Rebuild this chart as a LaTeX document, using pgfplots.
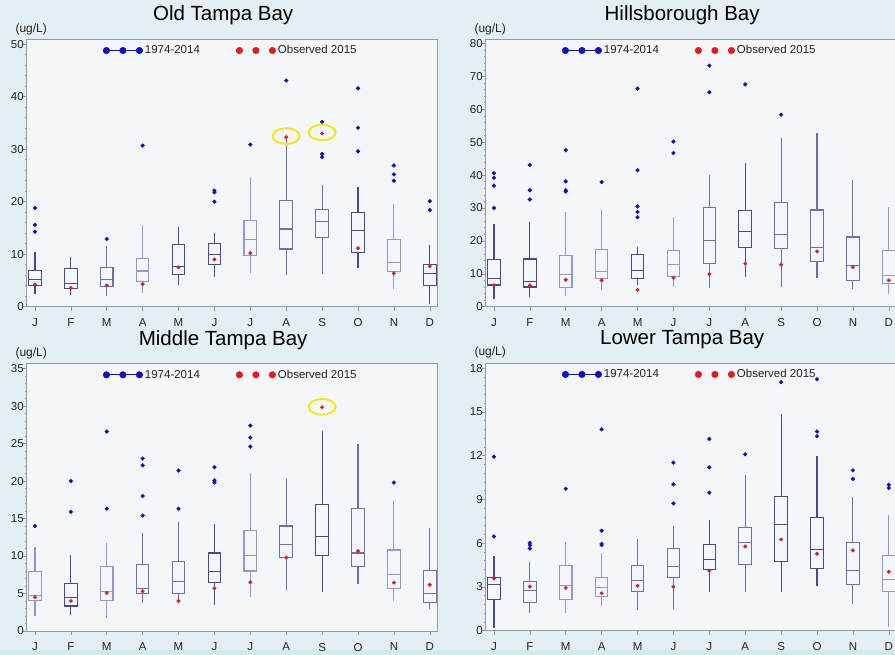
\documentclass[border=0pt]{standalone}
\usepackage{fontspec}
\setmainfont{Liberation Sans}
\usepackage{pgfplots}
\pgfplotsset{compat=1.18}
\usepgfplotslibrary{statistics}
\definecolor{bg}{RGB}{229,238,242}
\definecolor{bgc}{RGB}{205,236,236}
\definecolor{plotbg}{RGB}{244,247,249}
\definecolor{bxd}{RGB}{72,72,155}
\definecolor{bxm}{RGB}{108,108,185}
\definecolor{bxl}{RGB}{148,148,218}
\definecolor{outb}{RGB}{15,15,200}
\definecolor{obsr}{RGB}{232,25,25}
\definecolor{ring}{RGB}{245,232,0}
\definecolor{framec}{RGB}{150,153,160}
\definecolor{tickc}{RGB}{35,35,35}
\pgfdeclareplotmark{ring}{\pgfpathellipse{\pgfpointorigin}{\pgfqpoint{13.5pt}{0pt}}{\pgfqpoint{0pt}{7.8pt}}\pgfusepathqstroke}
\newcommand{\bx}[7]{\addplot[#7, line width=1.1pt, mark=none,
  boxplot/draw direction=y,
  boxplot prepared={draw position=#1, lower whisker=#2, lower quartile=#3, median=#4, upper quartile=#5, upper whisker=#6, box extend=0.35, whisker extend=0}] coordinates {};}
\newcommand{\legendstuff}{%
  \addlegendimage{legend image code/.code={\draw[outb, line width=0.7pt] (0pt,0pt) -- (33pt,0pt); \fill[outb] (0pt,0pt) circle (3.3pt) (16.5pt,0pt) circle (3.3pt) (33pt,0pt) circle (3.3pt);}}
  \addlegendentry{1974-2014}
  \addlegendimage{legend image code/.code={\fill[obsr] (0pt,0pt) circle (3.3pt) (16.5pt,0pt) circle (3.3pt) (33pt,0pt) circle (3.3pt);}}
  \addlegendentry{Observed 2015}}
\pgfplotsset{
  panel/.style={scale only axis, width=411pt, height=267.4pt, anchor=south west,
    xmin=-0.23, xmax=11.22, ymin=0,
    xtick={0,...,11}, xticklabels={J,F,M,A,M,J,J,A,S,O,N,D},
    axis line style={framec, line width=0.7pt}, tick style={framec, line width=0.6pt},
    tick align=outside, xtick pos=bottom, ytick pos=left, major tick length=4pt,
    minor y tick num=4, minor tick length=1.5pt,
    clip=false, axis background/.style={fill=plotbg},
    ticklabel style={font=\fontsize{11.5}{13}\selectfont, text=tickc},
    /pgf/number format/assume math mode=true,
    xticklabel style={yshift=-4.5pt}, yticklabel style={xshift=4.5pt},
    title style={font=\fontsize{20.5}{22}\selectfont, at={(0.478,1)}, anchor=base, yshift=12.5pt},
    legend style={draw=none, fill=none, at={(0.185,0.958)}, anchor=west, inner sep=0pt,
      font=\fontsize{11.5}{13}\selectfont, text=tickc, legend columns=2,
      /tikz/every even column/.append style={column sep=34pt}},
  },
  outl/.style={only marks, mark=*, mark size=1.9pt, outb, mark options={draw=none, fill=outb}},
  obs/.style={only marks, mark=*, mark size=1.8pt, obsr, mark options={draw=none, fill=obsr}},
}
\newcommand{\unit}{\node[font=\fontsize{12}{14}\selectfont, text=tickc] at (rel axis cs:0,1) [xshift=4.5pt, yshift=10.3pt] {(ug/L)};}
\begin{document}
\begin{tikzpicture}
\fill[bg] (0,0) rectangle (895pt,655pt);
\fill[bgc] (0,0) rectangle (895pt,5pt);
\useasboundingbox (0,0) rectangle (895pt,655pt);
\clip (0,0) rectangle (895pt,655pt);
% ---------------- Old Tampa Bay
\begin{axis}[panel, at={(26.7pt,348.3pt)}, ymax=50.95, ytick={0,10,...,50}, title={Old Tampa Bay}]
\legendstuff
\bx{0}{2.5}{4.06}{5.13}{6.97}{10.4}{bxd}
\bx{1}{2.3}{3.5}{4.5}{7.35}{9.5}{bxd}
\bx{2}{2.0}{3.87}{5.2}{7.5}{11.6}{bxm}
\bx{3}{2.7}{4.75}{6.8}{9.2}{15.5}{bxl}
\bx{4}{4.1}{6.1}{7.6}{11.85}{15.1}{bxd}
\bx{5}{5.6}{8.0}{9.9}{12.1}{14.1}{bxd}
\bx{6}{6.5}{9.76}{12.8}{16.5}{24.8}{bxl}
\bx{7}{6.0}{11.0}{14.8}{20.3}{31.9}{bxm}
\bx{8}{6.3}{13.2}{16.2}{18.6}{23.2}{bxm}
\bx{9}{7.35}{10.3}{14.5}{17.9}{22.9}{bxd}
\bx{10}{3.3}{6.65}{8.4}{12.8}{19.5}{bxl}
\bx{11}{0.6}{4.1}{6.3}{8.0}{11.7}{bxd}
\addplot[outl] coordinates {(0,18.8) (0,15.6) (0,14.3) (2,12.9) (3,30.7) (5,22.1) (5,21.8) (5,20.0) (6,30.9) (7,43.1) (8,35.2) (8,29.1) (8,28.5) (9,41.6) (9,34.1) (9,29.6) (10,26.9) (10,25.2) (10,24.0) (11,20.1) (11,18.4)};
\addplot[obs] coordinates {(0,4.25) (1,3.55) (2,4.05) (3,4.3) (4,7.5) (5,9.0) (6,10.2) (7,32.3) (8,33.0) (9,11.15) (10,6.35) (11,7.7)};
\addplot[only marks, mark=ring, ring, line width=1.8pt] coordinates {(7,32.5) (8,33.2)};
\unit
\end{axis}
% ---------------- Hillsborough Bay
\begin{axis}[panel, at={(485.7pt,348.3pt)}, ymax=81.3, ytick={0,10,...,80}, title={Hillsborough Bay}]
\legendstuff
\bx{0}{2.2}{6.6}{8.5}{14.3}{25.2}{bxd}
\bx{1}{2.9}{6.0}{7.7}{14.5}{25.6}{bxd}
\bx{2}{3.1}{5.8}{9.9}{15.6}{28.8}{bxl}
\bx{3}{5.2}{8.5}{10.6}{17.3}{29.4}{bxl}
\bx{4}{6.5}{8.5}{11.05}{15.9}{18.1}{bxd}
\bx{5}{6.1}{9.1}{12.7}{17.0}{27.2}{bxl}
\bx{6}{5.8}{13.0}{20.2}{30.2}{40.0}{bxm}
\bx{7}{9.0}{17.9}{22.8}{29.2}{43.6}{bxd}
\bx{8}{6.1}{17.8}{21.9}{31.8}{51.3}{bxm}
\bx{9}{8.7}{13.7}{18.1}{29.4}{52.7}{bxm}
\bx{10}{5.5}{7.9}{12.4}{21.2}{38.5}{bxm}
\bx{11}{3.85}{7.0}{9.4}{17.0}{30.4}{bxl}
\addplot[outl] coordinates {(0,40.6) (0,39.2) (0,36.8) (0,30.0) (1,43.1) (1,35.4) (1,32.6) (2,47.6) (2,38.1) (2,35.4) (2,35.0) (3,37.9) (4,66.3) (4,41.5) (4,30.5) (4,28.8) (4,27.2) (5,50.2) (5,46.7) (6,73.3) (6,65.2) (7,67.6) (8,58.4)};
\addplot[obs] coordinates {(0,6.5) (1,6.5) (2,8.2) (3,8.0) (4,5.1) (5,8.8) (6,9.9) (7,13.1) (8,12.8) (9,16.8) (10,12.0) (11,8.0)};
\unit
\end{axis}
% ---------------- Middle Tampa Bay
\begin{axis}[panel, at={(26.7pt,24pt)}, ymax=35.67, ytick={0,5,...,35}, title={Middle Tampa Bay}]
\legendstuff
\bx{0}{2.0}{4.04}{4.75}{7.9}{11.15}{bxl}
\bx{1}{2.2}{3.33}{4.44}{6.35}{10.2}{bxd}
\bx{2}{1.7}{4.09}{5.29}{8.6}{11.8}{bxl}
\bx{3}{3.7}{5.0}{5.64}{8.9}{13.06}{bxm}
\bx{4}{4.1}{4.97}{6.66}{9.3}{14.6}{bxm}
\bx{5}{3.5}{6.44}{7.9}{10.4}{14.3}{bxd}
\bx{6}{4.5}{8.0}{10.1}{13.4}{21.05}{bxl}
\bx{7}{5.5}{9.8}{11.55}{14.0}{20.25}{bxm}
\bx{8}{5.2}{10.1}{12.66}{16.9}{26.7}{bxd}
\bx{9}{6.3}{8.6}{10.4}{16.3}{24.9}{bxm}
\bx{10}{4.0}{5.7}{7.55}{10.8}{17.3}{bxl}
\bx{11}{2.9}{3.8}{5.06}{8.1}{13.7}{bxm}
\addplot[outl] coordinates {(0,14.0) (1,20.0) (1,15.9) (2,26.6) (2,16.3) (3,23.0) (3,22.1) (3,18.0) (3,15.4) (4,21.4) (4,16.3) (5,21.85) (5,20.1) (5,19.8) (6,27.4) (6,25.8) (6,24.6) (10,19.8)};
\addplot[obs] coordinates {(0,4.5) (1,4.0) (2,5.06) (3,5.3) (4,4.0) (5,5.7) (6,6.5) (7,9.8) (8,29.85) (9,10.66) (10,6.44) (11,6.17)};
\addplot[only marks, mark=ring, ring, line width=1.8pt] coordinates {(8,29.9)};
\unit
\end{axis}
% ---------------- Lower Tampa Bay
\begin{axis}[panel, at={(485.7pt,24.4pt)}, ymax=18.34, ytick={0,3,...,18}, title={Lower Tampa Bay}]
\legendstuff
\bx{0}{0.18}{2.15}{3.16}{3.62}{5.13}{bxd}
\bx{1}{1.24}{1.92}{2.77}{3.34}{4.72}{bxm}
\bx{2}{1.19}{2.13}{3.09}{4.47}{6.07}{bxl}
\bx{3}{1.69}{2.36}{2.98}{3.64}{5.34}{bxl}
\bx{4}{1.4}{2.66}{3.46}{4.47}{6.25}{bxm}
\bx{5}{1.49}{3.64}{4.4}{5.63}{7.14}{bxm}
\bx{6}{2.66}{4.19}{4.88}{5.88}{7.56}{bxd}
\bx{7}{2.66}{4.53}{6.05}{7.08}{10.67}{bxm}
\bx{8}{2.66}{4.72}{7.26}{9.18}{14.86}{bxd}
\bx{9}{3.05}{4.28}{5.59}{7.76}{11.98}{bxd}
\bx{10}{1.85}{3.16}{4.12}{6.02}{9.14}{bxm}
\bx{11}{0.27}{2.68}{3.48}{5.15}{7.92}{bxl}
\addplot[outl] coordinates {(0,11.93) (0,6.46) (1,6.02) (1,5.86) (1,5.63) (2,9.73) (3,13.8) (3,6.85) (3,5.95) (3,5.86) (5,11.52) (5,10.03) (5,8.72) (6,13.14) (6,11.2) (6,9.46) (7,12.09) (8,17.04) (9,17.24) (9,13.65) (9,13.33) (10,10.99) (10,10.4) (11,10.0) (11,9.78)};
\addplot[obs] coordinates {(0,3.57) (1,3.02) (2,2.93) (3,2.56) (4,3.07) (5,3.0) (6,4.1) (7,5.77) (8,6.25) (9,5.27) (10,5.5) (11,4.03)};
\unit
\end{axis}
\end{tikzpicture}
\end{document}
